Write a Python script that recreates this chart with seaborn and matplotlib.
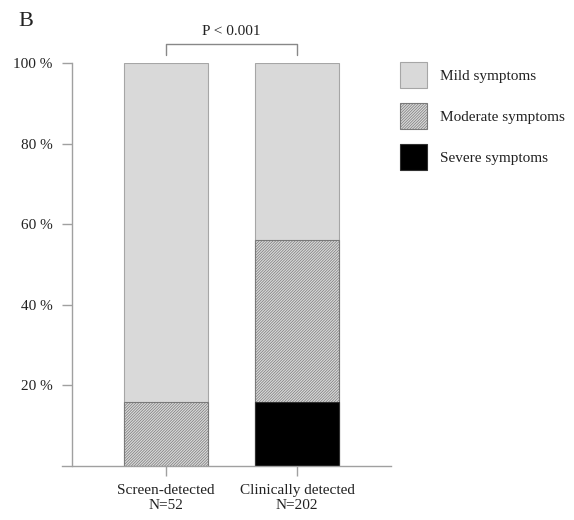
import matplotlib
matplotlib.use("Agg")
import matplotlib.pyplot as plt
from matplotlib.patches import Patch
import numpy as np
import pandas as pd
import seaborn as sns

# Share of patients per symptom severity (%)
groups = ["Screen-detected\nN=52", "Clinically detected\nN=202"]
mild = [84, 44]
moderate = [16, 40]
severe = [0, 16]
categories = ["Mild symptoms", "Moderate symptoms", "Severe symptoms"]
y_ticks = [20, 40, 60, 80, 100]
p_label = "P < 0.001"

sns.set_theme(style="white")
plt.rcParams["font.family"] = ["Liberation Serif", "DejaVu Serif"]
plt.rcParams["hatch.linewidth"] = 0.5

MILD_C = "#d9d9d9"
MILD_E = "#a6a6a6"
HATCH_E = "#7a7a7a"
HATCH = "////////////"
SEV_C = "#000000"
AX_C = "#a0a0a0"

fig = plt.figure(figsize=(5.74, 5.2), dpi=100)
ax = fig.add_axes([62 / 574, 54 / 520, 329 / 574, 403 / 520])

# stacked tops, drawn back to front
sev_top = np.array(severe, dtype=float)
mod_top = sev_top + np.array(moderate, dtype=float)
mild_top = mod_top + np.array(mild, dtype=float)

layers = [
    (mild_top, MILD_C, MILD_E, None),
    (mod_top, MILD_C, HATCH_E, HATCH),
    (sev_top, SEV_C, "#303030", None),
]
for top, fc, ec, hatch in layers:
    df = pd.DataFrame({"group": groups, "value": top})
    sns.barplot(data=df, x="group", y="value", order=groups, color=fc,
                saturation=1, width=0.64, edgecolor=ec, linewidth=0.8,
                ax=ax, errorbar=None)
    for bar in ax.containers[-1]:
        bar.set_facecolor(fc)
        bar.set_edgecolor(ec)
        if hatch:
            bar.set_hatch(hatch)
        if bar.get_height() <= 0:
            bar.set_visible(False)

ax.set_xlim(-104 / 131, 1 + 94 / 131)
ax.set_ylim(0, 100)
ax.set_xlabel("")
ax.set_ylabel("")

ax.set_yticks(y_ticks)
ax.set_yticklabels([f"{v} %" for v in y_ticks])

for side in ("top", "right"):
    ax.spines[side].set_visible(False)
ax.spines["left"].set_position(("axes", 10 / 329))
ax.spines["left"].set_bounds(0, 100)
for side in ("left", "bottom"):
    ax.spines[side].set_color(AX_C)
    ax.spines[side].set_linewidth(1.0)

ax.tick_params(axis="both", direction="out", length=7.5, width=1.0,
               color=AX_C, labelsize=11, labelcolor="#222222",
               left=True, bottom=True)
ax.tick_params(axis="y", pad=6.5)
ax.tick_params(axis="x", pad=5.5)
ax.grid(False)

# significance bracket
ax.plot([0, 0, 1, 1], [102.0, 104.7, 104.7, 102.0], color="#888888",
        lw=1.0, clip_on=False)
ax.text(0.5, 107.8, p_label, ha="center", va="center", fontsize=11,
        color="#222222", clip_on=False)

fig.text(18 / 574, 1 - 12 / 520, "B", ha="left", va="top", fontsize=16,
         color="#222222")

handles = [
    Patch(facecolor=MILD_C, edgecolor=MILD_E, linewidth=0.8),
    Patch(facecolor=MILD_C, edgecolor=HATCH_E, linewidth=0.8, hatch=HATCH),
    Patch(facecolor=SEV_C, edgecolor="#303030", linewidth=0.8),
]
fig.legend(handles, categories, loc="upper left",
           bbox_to_anchor=(400 / 574, 1 - 62 / 520), frameon=False,
           fontsize=11, handlelength=1.77, handleheight=2.24,
           handletextpad=0.85, labelspacing=0.98, borderpad=0,
           borderaxespad=0, labelcolor="#222222")

fig.savefig("out.png", dpi=100)
